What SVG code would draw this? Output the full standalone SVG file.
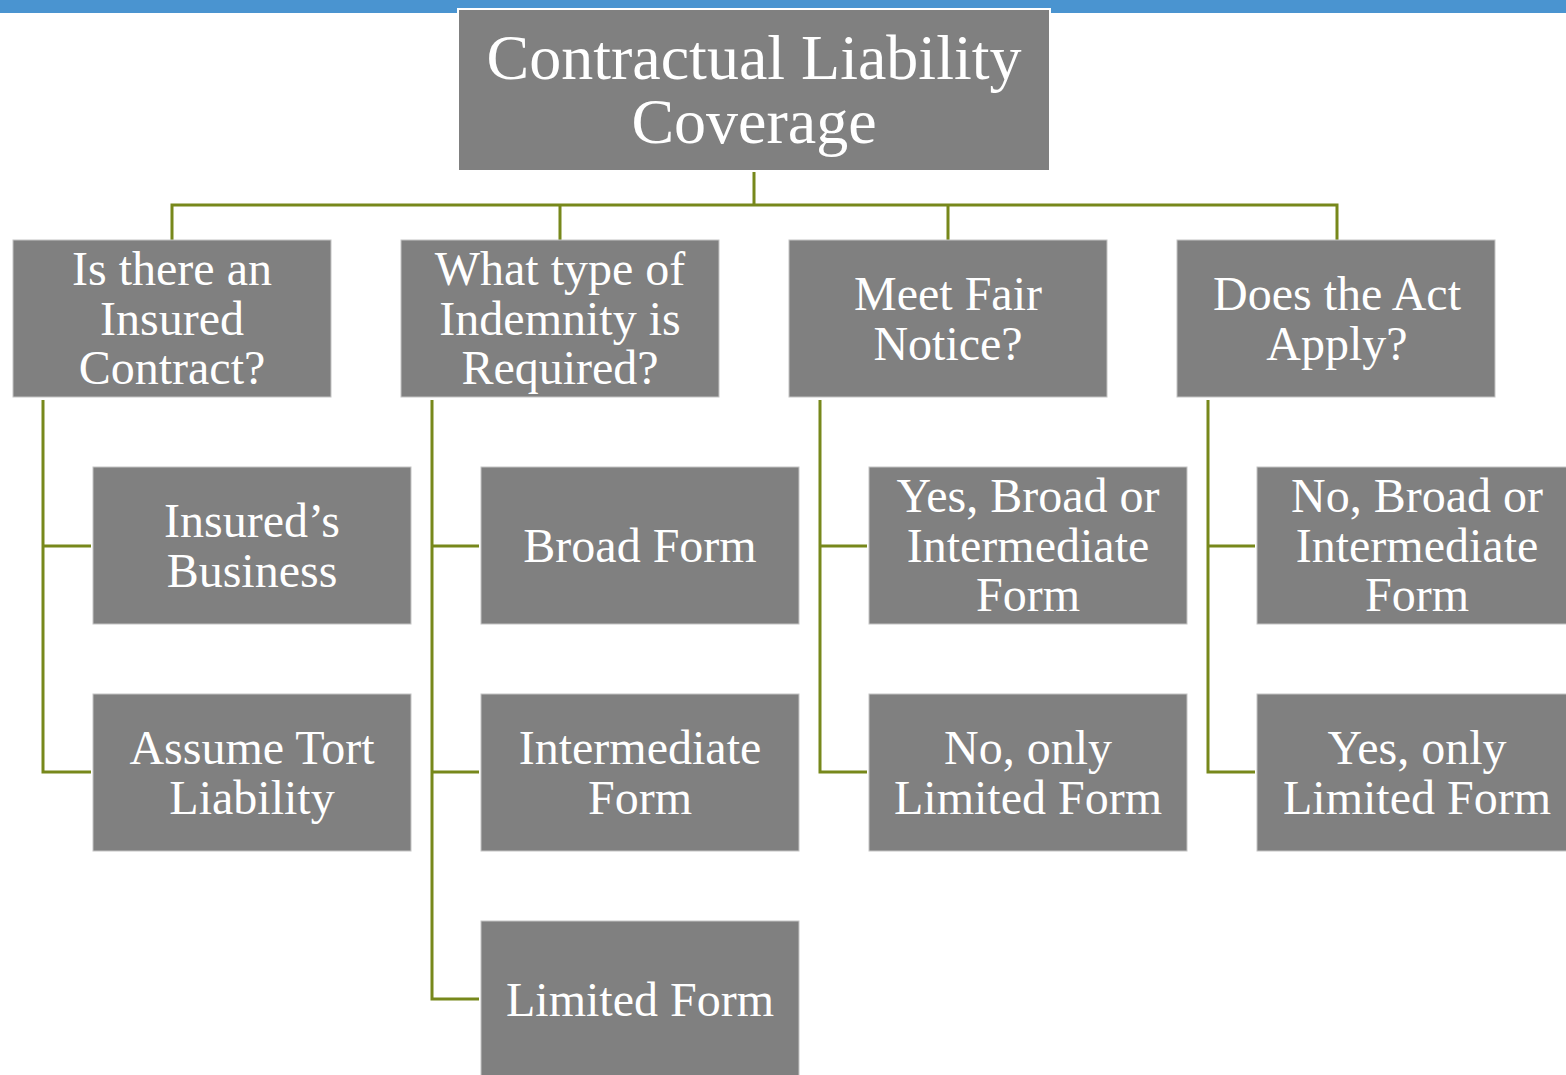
<svg xmlns="http://www.w3.org/2000/svg" width="1566" height="1075" viewBox="0 0 1566 1075">
<style>
.box{fill:#808080;stroke:#c4c4c4;stroke-width:1}
.t{font-family:"Liberation Serif","Times New Roman",serif;font-size:48px;fill:#ffffff;text-anchor:middle}
.tt{font-family:"Liberation Serif","Times New Roman",serif;font-size:64px;fill:#ffffff;text-anchor:middle}
.c{fill:none;stroke:#77881b;stroke-width:3}
</style>
<rect x="0" y="0" width="1566" height="13" fill="#4a94d0"/>
<g id="connectors">
<path class="c" d="M754 172V205M172 240V205H1337V240M560 205V240M948 205V240"/>
<path class="c" d="M43 400V772H91M43 546H91"/>
<path class="c" d="M432 400V999H479M432 546H479M432 772H479"/>
<path class="c" d="M820 400V772H867M820 546H867"/>
<path class="c" d="M1208 400V772H1255M1208 546H1255"/>
</g>
<g id="title">
<rect x="458" y="9" width="592" height="162" fill="#808080" stroke="#ffffff" stroke-width="2"/>
<text class="tt" x="754" y="79">Contractual Liability</text>
<text class="tt" x="754" y="143">Coverage</text>
</g>
<g id="q1">
<rect class="box" x="13" y="240" width="318" height="157"/>
<text class="t" x="172" y="285">Is there an</text>
<text class="t" x="172" y="334.5">Insured</text>
<text class="t" x="172" y="384">Contract?</text>
</g>
<g id="q2">
<rect class="box" x="401" y="240" width="318" height="157"/>
<text class="t" x="560" y="285">What type of</text>
<text class="t" x="560" y="334.5">Indemnity is</text>
<text class="t" x="560" y="384">Required?</text>
</g>
<g id="q3">
<rect class="box" x="789" y="240" width="318" height="157"/>
<text class="t" x="948" y="310">Meet Fair</text>
<text class="t" x="948" y="359.5">Notice?</text>
</g>
<g id="q4">
<rect class="box" x="1177" y="240" width="318" height="157"/>
<text class="t" x="1337" y="310">Does the Act</text>
<text class="t" x="1337" y="359.5">Apply?</text>
</g>
<g id="a1">
<rect class="box" x="93" y="467" width="318" height="157"/>
<text class="t" x="252" y="537">Insured’s</text>
<text class="t" x="252" y="586.5">Business</text>
</g>
<g id="a2">
<rect class="box" x="93" y="694" width="318" height="157"/>
<text class="t" x="252" y="764">Assume Tort</text>
<text class="t" x="252" y="813.5">Liability</text>
</g>
<g id="b1">
<rect class="box" x="481" y="467" width="318" height="157"/>
<text class="t" x="640" y="562">Broad Form</text>
</g>
<g id="b2">
<rect class="box" x="481" y="694" width="318" height="157"/>
<text class="t" x="640" y="764">Intermediate</text>
<text class="t" x="640" y="813.5">Form</text>
</g>
<g id="b3">
<rect class="box" x="481" y="921" width="318" height="157"/>
<text class="t" x="640" y="1016">Limited Form</text>
</g>
<g id="c1">
<rect class="box" x="869" y="467" width="318" height="157"/>
<text class="t" x="1028" y="512">Yes, Broad or</text>
<text class="t" x="1028" y="561.5">Intermediate</text>
<text class="t" x="1028" y="611">Form</text>
</g>
<g id="c2">
<rect class="box" x="869" y="694" width="318" height="157"/>
<text class="t" x="1028" y="764">No, only</text>
<text class="t" x="1028" y="813.5">Limited Form</text>
</g>
<g id="d1">
<rect class="box" x="1257" y="467" width="318" height="157"/>
<text class="t" x="1417" y="512">No, Broad or</text>
<text class="t" x="1417" y="561.5">Intermediate</text>
<text class="t" x="1417" y="611">Form</text>
</g>
<g id="d2">
<rect class="box" x="1257" y="694" width="318" height="157"/>
<text class="t" x="1417" y="764">Yes, only</text>
<text class="t" x="1417" y="813.5">Limited Form</text>
</g>
</svg>
